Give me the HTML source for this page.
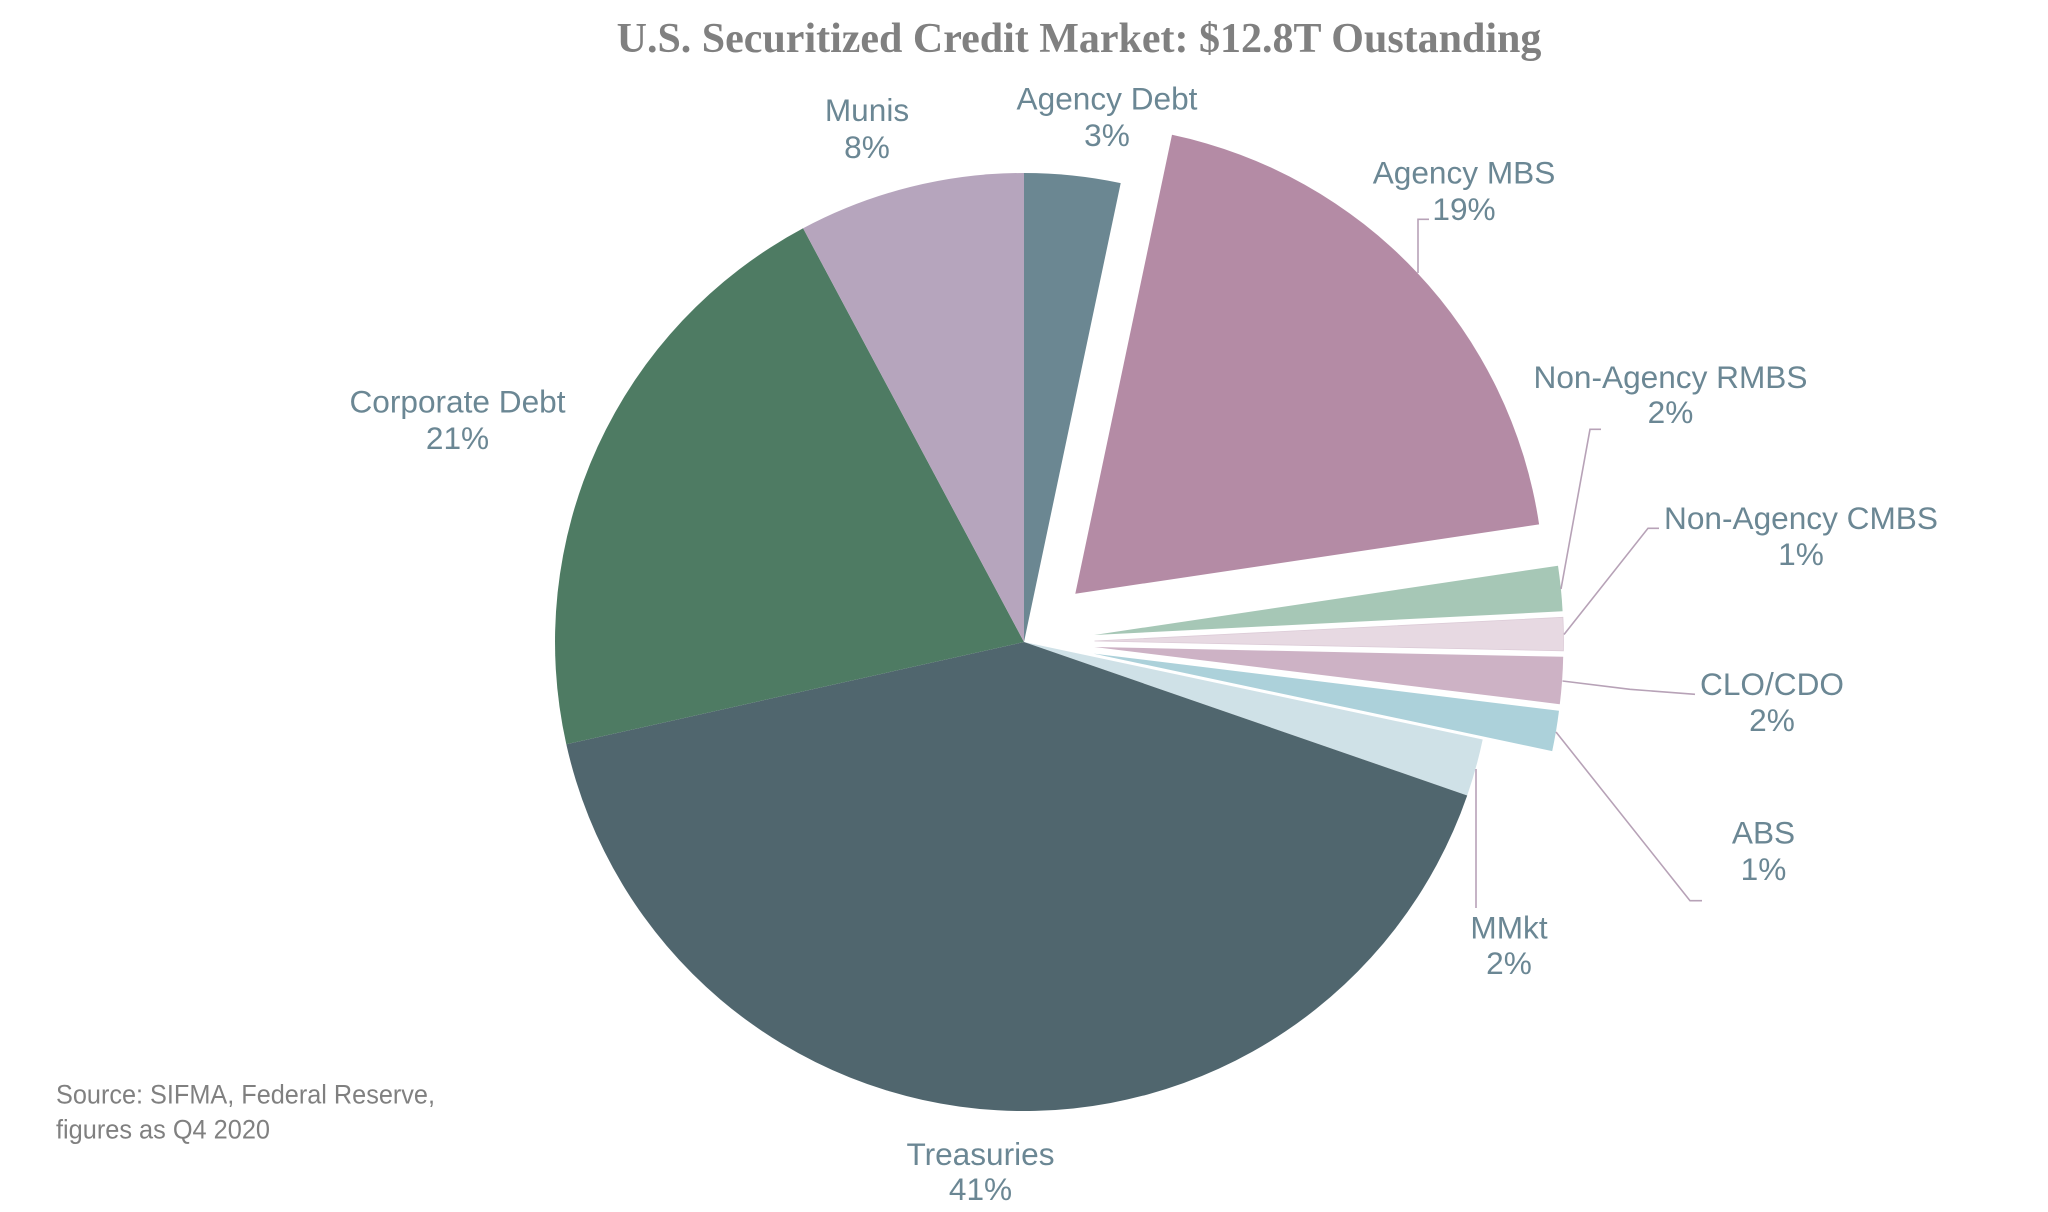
<!DOCTYPE html>
<html>
<head>
<meta charset="utf-8">
<style>
  html, body { margin: 0; padding: 0; background: #ffffff; }
  body { width: 2048px; height: 1212px; overflow: hidden; }
  svg { display: block; }
  .lbl { font-family: "Liberation Sans", Arial, sans-serif; font-size: 31.6px; fill: #6b8794; text-anchor: middle; }
  .ttl { font-family: "Liberation Serif", "Times New Roman", serif; font-weight: bold; font-size: 42px; fill: #808080; text-anchor: middle; }
  .src { font-family: "Liberation Sans", Arial, sans-serif; font-size: 27px; fill: #808080; }
  .lead { fill: none; stroke: #b7a2b7; stroke-width: 1.6; }
</style>
</head>
<body>
<svg width="2048" height="1212" viewBox="0 0 2048 1212" xmlns="http://www.w3.org/2000/svg">
  <rect width="2048" height="1212" fill="#ffffff"/>

  <!-- Title -->
  <text class="ttl" x="1079" y="52">U.S. Securitized Credit Market: $12.8T Oustanding</text>

  <!-- Non-exploded slices -->
  <!-- Agency Debt 0-11.9 -->
  <path d="M1024,642 L1024,173 A469,469 0 0 1 1120.7,183.1 Z" fill="#6b8792"/>
  <!-- MMkt 102-109.1 -->
  <path d="M1024,642 L1482.7,739.5 A469,469 0 0 1 1467.2,795.5 Z" fill="#cfe1e7"/>
  <!-- Treasuries 109.1-257.4 -->
  <path d="M1024,642 L1467.2,795.5 A469,469 0 0 1 566.3,744.3 Z" fill="#50666e"/>
  <!-- Corporate Debt 257.4-331.9 -->
  <path d="M1024,642 L566.3,744.3 A469,469 0 0 1 803.1,228.3 Z" fill="#4e7b63"/>
  <!-- Munis 331.9-360 -->
  <path d="M1024,642 L803.1,228.3 A469,469 0 0 1 1024,173 Z" fill="#b6a5bd"/>

  <!-- Exploded slices -->
  <!-- Agency MBS 11.9-81.5 -->
  <path d="M1075.3,593.7 L1172.0,134.8 A469,469 0 0 1 1539.1,524.4 Z" fill="#b48ba5"/>
  <!-- Non-Agency RMBS 81.5-87.1 -->
  <path d="M1094.2,635.0 L1558.0,565.7 A469,469 0 0 1 1562.6,611.3 Z" fill="#a6c7b6"/>
  <!-- Non-Agency CMBS 87.1-91.2 -->
  <path d="M1094.5,641.0 L1562.9,617.3 A469,469 0 0 1 1563.4,650.8 Z" fill="#e7d9e2" stroke="#dccbd7" stroke-width="0.8"/>
  <!-- CLO/CDO 91.2-97.0 -->
  <path d="M1094.3,647.0 L1563.2,656.8 A469,469 0 0 1 1559.8,704.2 Z" fill="#cdb2c5"/>
  <!-- ABS 97.0-102 -->
  <path d="M1093.5,653.6 L1559.0,710.8 A469,469 0 0 1 1552.2,751.1 Z" fill="#acd1da"/>

  <!-- Leader lines -->
  <polyline class="lead" points="1429,219.3 1418,219.3 1418,273"/>
  <polyline class="lead" points="1601,429.3 1590,429.3 1561,589"/>
  <polyline class="lead" points="1659,528.3 1648,528.3 1564,634.5"/>
  <polyline class="lead" points="1562.5,681 1630,689.3 1695,694.3"/>
  <polyline class="lead" points="1556,732 1690,900.7 1702,900.7"/>
  <polyline class="lead" points="1476,769 1476,908"/>

  <!-- Labels -->
  <text class="lbl" x="867" y="121">Munis</text>
  <text class="lbl" x="867" y="158">8%</text>

  <text class="lbl" x="1107" y="109.5">Agency Debt</text>
  <text class="lbl" x="1107" y="146">3%</text>

  <text class="lbl" x="1464" y="183.5">Agency MBS</text>
  <text class="lbl" x="1464" y="220">19%</text>

  <text class="lbl" x="1670.5" y="388">Non-Agency RMBS</text>
  <text class="lbl" x="1670.5" y="423">2%</text>

  <text class="lbl" x="1801" y="529">Non-Agency CMBS</text>
  <text class="lbl" x="1801" y="565">1%</text>

  <text class="lbl" x="1772" y="695">CLO/CDO</text>
  <text class="lbl" x="1772" y="731">2%</text>

  <text class="lbl" x="1763.5" y="843.5">ABS</text>
  <text class="lbl" x="1763.5" y="880">1%</text>

  <text class="lbl" x="1509" y="938.5">MMkt</text>
  <text class="lbl" x="1509" y="974">2%</text>

  <text class="lbl" x="980.5" y="1165">Treasuries</text>
  <text class="lbl" x="980.5" y="1200">41%</text>

  <text class="lbl" x="457.5" y="412.5">Corporate Debt</text>
  <text class="lbl" x="457.5" y="449">21%</text>

  <!-- Source -->
  <text class="src" x="56" y="1103.5" textLength="379" lengthAdjust="spacingAndGlyphs">Source: SIFMA, Federal Reserve,</text>
  <text class="src" x="56" y="1138.5" textLength="214" lengthAdjust="spacingAndGlyphs">figures as Q4 2020</text>
</svg>
</body>
</html>
